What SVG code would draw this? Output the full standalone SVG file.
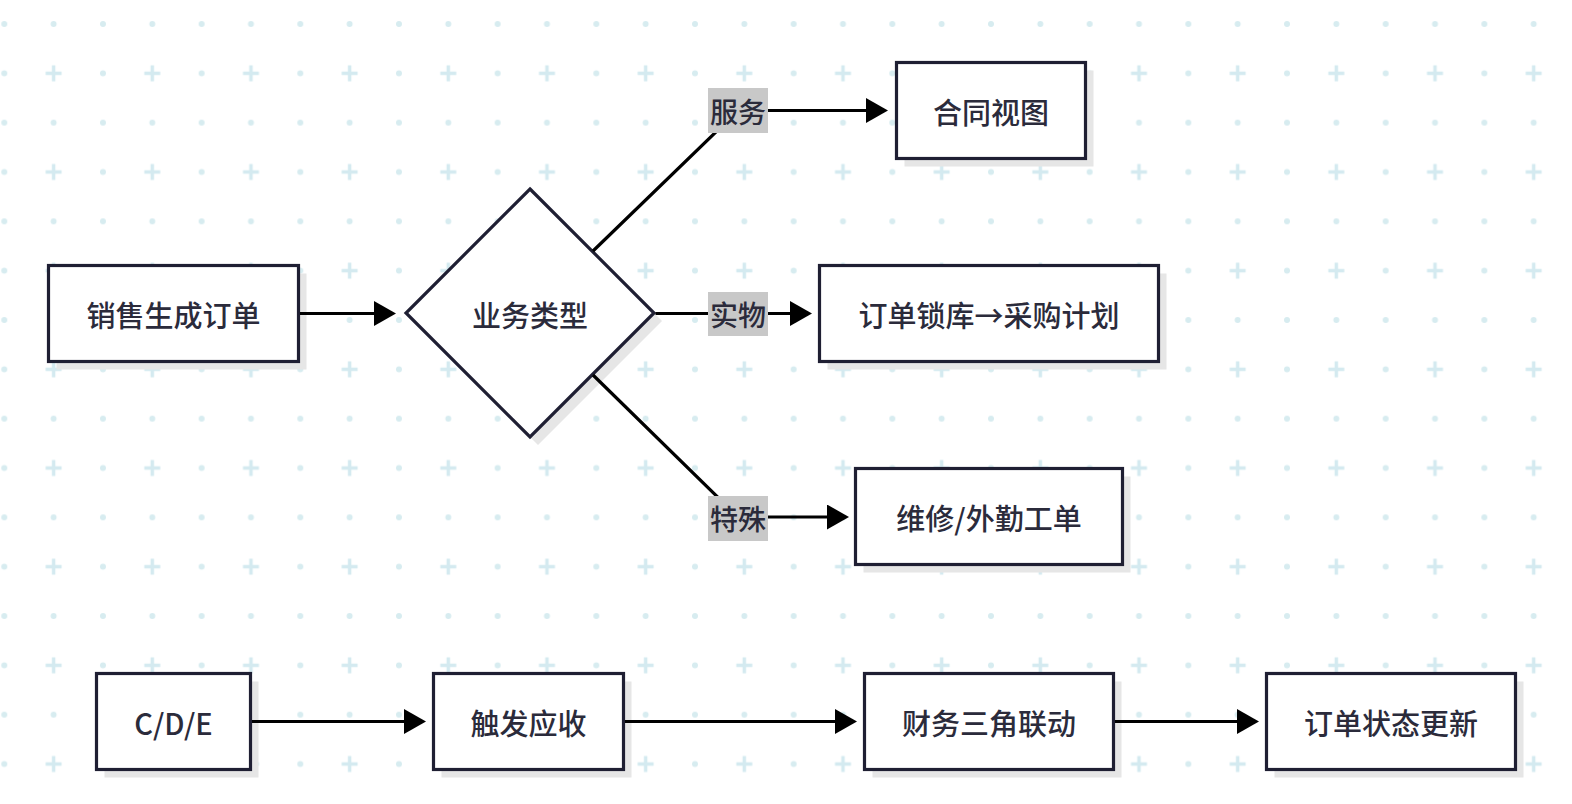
<svg xmlns="http://www.w3.org/2000/svg" width="1572" height="804" viewBox="0 0 1572 804">
  <defs>
    <pattern id="grid" patternUnits="userSpaceOnUse" x="4.3" y="24" width="98.67" height="98.67">
      <circle cx="0" cy="0" r="3" fill="#d7ecf0"/>
      <circle cx="98.67" cy="0" r="3" fill="#d7ecf0"/>
      <circle cx="0" cy="98.67" r="3" fill="#d7ecf0"/>
      <circle cx="98.67" cy="98.67" r="3" fill="#d7ecf0"/>
      <circle cx="49.33" cy="0" r="3" fill="#d7ecf0"/>
      <circle cx="49.33" cy="98.67" r="3" fill="#d7ecf0"/>
      <circle cx="0" cy="49.33" r="3" fill="#d7ecf0"/>
      <circle cx="98.67" cy="49.33" r="3" fill="#d7ecf0"/>
      <path d="M41.33,49.33 H57.33 M49.33,41.33 V57.33" stroke="#d4eaf0" stroke-width="3.5"/>
    </pattern>
    <marker id="arrow" markerUnits="userSpaceOnUse" markerWidth="24" markerHeight="26" refX="14" refY="12.5" orient="auto">
      <path d="M0,0 L22,12.5 L0,25 Z" fill="#000"/>
    </marker>
    <style>
      .node { fill: #ffffff; stroke: #1f1f33; stroke-width: 3.2; }
      .shadow { fill: #e6e6e6; }
      .txt { font-family: "Noto Sans CJK SC", "Noto Sans", sans-serif; font-size: 29px; font-weight: 500; fill: #2b2b3b; text-anchor: middle; dominant-baseline: central; }
      .lbl { font-family: "Noto Sans CJK SC", "Noto Sans", sans-serif; font-size: 28px; font-weight: 500; fill: #2b2b3b; text-anchor: middle; dominant-baseline: central; }
      .lblbg { fill: #c8c8c8; }
      .edge { fill: none; stroke: #000; stroke-width: 3.2; marker-end: url(#arrow); }
    </style>
  </defs>
  <rect width="1572" height="804" fill="#ffffff"/>
  <rect width="1572" height="804" fill="url(#grid)"/>

  <g id="node-order">
    <rect class="shadow" x="56.5" y="273.5" width="250" height="96"/>
    <rect class="node" x="48.5" y="265.5" width="250" height="96"/>
    <text class="txt" x="173.5" y="313.5">销售生成订单</text>
  </g>
  <g id="node-type">
    <polygon class="shadow" points="538,197 662,321 538,445 414,321"/>
    <polygon class="node" points="530,189 654,313 530,437 406,313"/>
    <text class="txt" x="530" y="313.5">业务类型</text>
  </g>
  <g id="node-contract">
    <rect class="shadow" x="904.5" y="70.5" width="189" height="96"/>
    <rect class="node" x="896.5" y="62.5" width="189" height="96"/>
    <text class="txt" x="991" y="110.5">合同视图</text>
  </g>
  <g id="node-lock">
    <rect class="shadow" x="827.5" y="273.5" width="339" height="96"/>
    <rect class="node" x="819.5" y="265.5" width="339" height="96"/>
    <text class="txt" x="989" y="313.5">订单锁库→采购计划</text>
  </g>
  <g id="node-repair">
    <rect class="shadow" x="863.5" y="476.5" width="267" height="96"/>
    <rect class="node" x="855.5" y="468.5" width="267" height="96"/>
    <text class="txt" x="989" y="516.5">维修/外勤工单</text>
  </g>
  <g id="node-cde">
    <rect class="shadow" x="104.5" y="681.5" width="154" height="96"/>
    <rect class="node" x="96.5" y="673.5" width="154" height="96"/>
    <text class="txt" x="173.5" y="721.5">C/D/E</text>
  </g>
  <g id="node-ar">
    <rect class="shadow" x="441.5" y="681.5" width="190" height="96"/>
    <rect class="node" x="433.5" y="673.5" width="190" height="96"/>
    <text class="txt" x="528.5" y="721.5">触发应收</text>
  </g>
  <g id="node-finance">
    <rect class="shadow" x="872.5" y="681.5" width="249" height="96"/>
    <rect class="node" x="864.5" y="673.5" width="249" height="96"/>
    <text class="txt" x="989" y="721.5">财务三角联动</text>
  </g>
  <g id="node-status">
    <rect class="shadow" x="1274.5" y="681.5" width="249" height="96"/>
    <rect class="node" x="1266.5" y="673.5" width="249" height="96"/>
    <text class="txt" x="1391" y="721.5">订单状态更新</text>
  </g>

  <g id="connectors">
    <path class="edge" d="M300,313.5 H388"/>
    <path class="edge" d="M593,251 L738,110.5 H880"/>
    <path class="edge" d="M655.5,313.5 H804"/>
    <path class="edge" d="M593,375 L738,517 H841"/>
    <path class="edge" d="M252,721.5 H418"/>
    <path class="edge" d="M625,721.5 H849"/>
    <path class="edge" d="M1115,721.5 H1251"/>
  </g>

  <g id="label-fuwu">
    <rect class="lblbg" x="708" y="88" width="60" height="45"/>
    <text class="lbl" x="738" y="110.5">服务</text>
  </g>
  <g id="label-shiwu">
    <rect class="lblbg" x="708" y="292" width="60" height="44"/>
    <text class="lbl" x="738" y="314">实物</text>
  </g>
  <g id="label-teshu">
    <rect class="lblbg" x="708" y="496" width="60" height="45"/>
    <text class="lbl" x="738" y="518">特殊</text>
  </g>
</svg>
